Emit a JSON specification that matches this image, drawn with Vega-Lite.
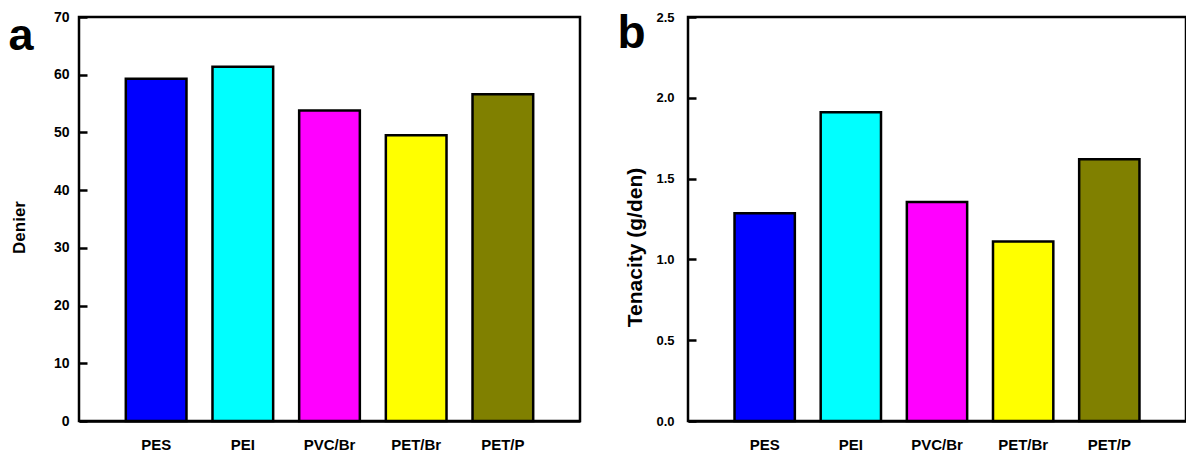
{
  "$schema": "https://vega.github.io/schema/vega-lite/v6.json",
  "padding": {"left": 6, "top": 8, "right": 3, "bottom": 3},
  "background": "white",
  "config": {
    "font": "Liberation Sans",
    "view": {"stroke": "black", "strokeWidth": 2.5},
    "axis": {
      "grid": false,
      "zindex": 1,
      "domainColor": "black",
      "domainWidth": 2.5,
      "labelFont": "Liberation Sans",
      "labelFontWeight": "bold",
      "labelColor": "black",
      "titleColor": "black",
      "titleFont": "Liberation Sans",
      "titleFontWeight": "bold"
    }
  },
  "datasets": {
    "fib": [
      {"sample": "PES", "denier": 59.3, "tenacity": 1.285},
      {"sample": "PEI", "denier": 61.4, "tenacity": 1.91},
      {"sample": "PVC/Br", "denier": 53.8, "tenacity": 1.355},
      {"sample": "PET/Br", "denier": 49.5, "tenacity": 1.11},
      {"sample": "PET/P", "denier": 56.6, "tenacity": 1.62}
    ]
  },
  "spacing": 33,
  "hconcat": [
    {
      "width": 501,
      "height": 404,
      "data": {"name": "fib"},
      "mark": {"type": "bar", "stroke": "black", "strokeWidth": 2.5},
      "encoding": {
        "x": {"field": "sample", "type": "nominal", "sort": ["PES", "PEI", "PVC/Br", "PET/Br", "PET/P"], "scale": {"paddingInner": 0.3, "paddingOuter": 0.54},
          "axis": {"title": "a", "titleFontSize": 45, "titleAngle": 0, "titleAlign": "left", "titleBaseline": "alphabetic", "titleX": -71, "titleY": -372, "labelAngle": 0, "ticks": false, "labelPadding": 16, "labelFontSize": 15}},
        "y": {"field": "denier", "type": "quantitative", "scale": {"domain": [0, 70]},
          "axis": {"title": "Denier", "values": [0, 10, 20, 30, 40, 50, 60, 70], "offset": -8, "domain": false, "ticks": true, "tickSize": 8, "tickWidth": 2.5, "tickColor": "black", "labelPadding": 10, "labelFontSize": 14, "titleFontSize": 17, "titleX": -59, "titleY": 210}},
        "color": {"field": "sample", "type": "nominal", "sort": ["PES", "PEI", "PVC/Br", "PET/Br", "PET/P"],
          "scale": {"domain": ["PES", "PEI", "PVC/Br", "PET/Br", "PET/P"], "range": ["#0000FF", "#00FFFF", "#FF00FF", "#FFFF00", "#808000"]}, "legend": null}
      }
    },
    {
      "width": 498,
      "height": 404,
      "data": {"name": "fib"},
      "mark": {"type": "bar", "stroke": "black", "strokeWidth": 2.5},
      "encoding": {
        "x": {"field": "sample", "type": "nominal", "sort": ["PES", "PEI", "PVC/Br", "PET/Br", "PET/P"], "scale": {"paddingInner": 0.3, "paddingOuter": 0.54},
          "axis": {"title": "b", "titleFontSize": 46, "titleAngle": 0, "titleAlign": "left", "titleBaseline": "alphabetic", "titleX": -71, "titleY": -374, "labelAngle": 0, "ticks": false, "labelPadding": 16, "labelFontSize": 15}},
        "y": {"field": "tenacity", "type": "quantitative", "scale": {"domain": [0, 2.5]},
          "axis": {"title": "Tenacity (g/den)", "values": [0, 0.5, 1, 1.5, 2, 2.5], "format": ".1f", "offset": -8, "domain": false, "ticks": true, "tickSize": 8, "tickWidth": 2.5, "tickColor": "black", "labelPadding": 14, "labelFontSize": 13, "titleFontSize": 21, "titleX": -50.5, "titleY": 230}},
        "color": {"field": "sample", "type": "nominal", "sort": ["PES", "PEI", "PVC/Br", "PET/Br", "PET/P"],
          "scale": {"domain": ["PES", "PEI", "PVC/Br", "PET/Br", "PET/P"], "range": ["#0000FF", "#00FFFF", "#FF00FF", "#FFFF00", "#808000"]}, "legend": null}
      }
    }
  ]
}
